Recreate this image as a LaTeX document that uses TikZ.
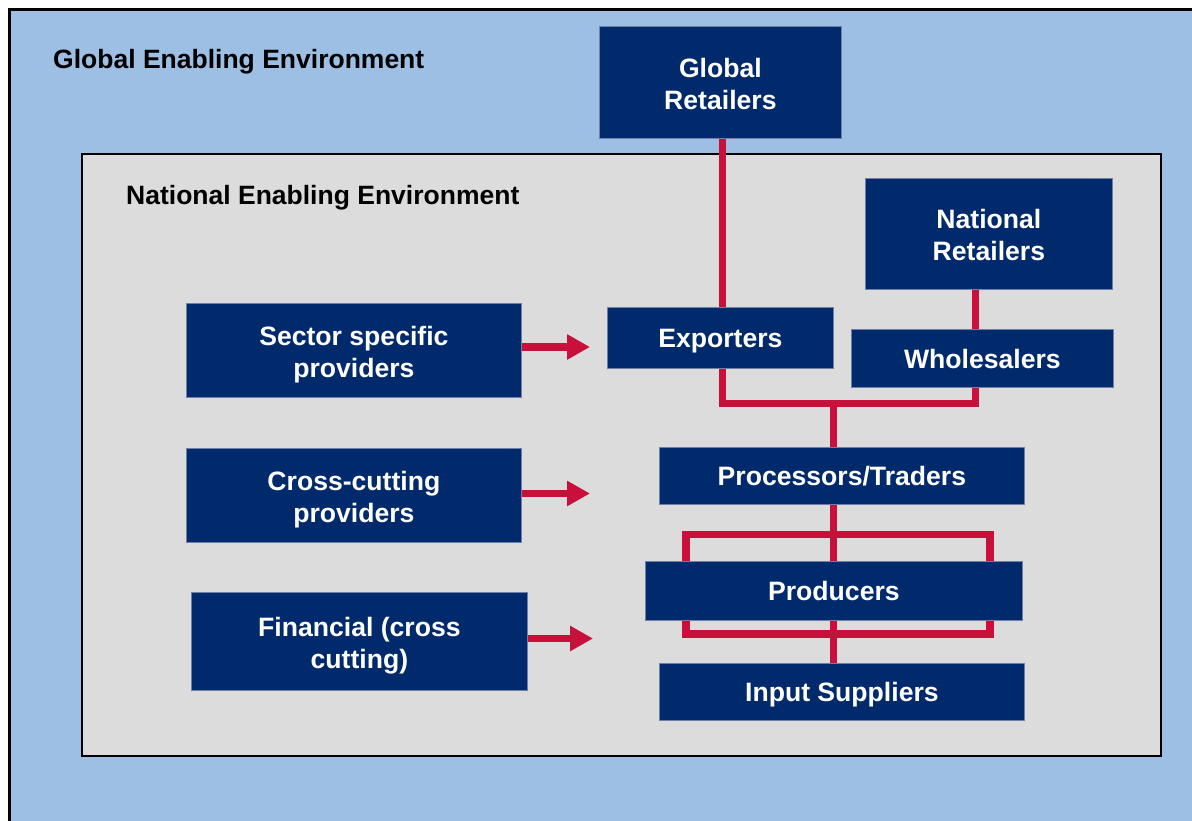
\documentclass[tikz,border=0pt]{standalone}
\usepackage{fontspec}
\setmainfont{Liberation Sans}
\usetikzlibrary{arrows.meta}
\definecolor{navy}{HTML}{002A6C}
\definecolor{redline}{HTML}{C8103A}
\definecolor{lightblue}{HTML}{9DBFE4}
\definecolor{panelgrey}{HTML}{DCDCDC}
\definecolor{boxedge}{HTML}{6F7FA8}
\newcommand{\twolines}[2]{\begin{tabular}[b]{@{}c@{}}#1\\#2\end{tabular}}
\tikzset{
  box/.style={fill=navy, draw=boxedge, line width=0.8pt, text=white, font=\fontsize{26.6}{32}\selectfont\bfseries, inner sep=0pt, anchor=north west, text height=20pt, text depth=0pt},
  boxtwo/.style={box, text height=54pt},
  link/.style={draw=redline, line width=7.5pt, line cap=butt, line join=miter},
  arrowlink/.style={link, -{Triangle[length=23pt,width=24pt]}},
  heading/.style={font=\fontsize{26.5}{32}\selectfont\bfseries, anchor=base west, inner sep=0pt}
}
\begin{document}
\begin{tikzpicture}[x=1pt,y=-1pt]
\useasboundingbox (0,0) rectangle (1192,820);
\clip (0,0) rectangle (1192,820);
% outer environment
\fill[white] (0,0) rectangle (1192,820);
\draw[fill=lightblue, line width=3pt] (9.5,9.5) rectangle (1230,860);
% national environment
\draw[fill=panelgrey, line width=2pt] (81.5,153.5) rectangle (1161,756);
\node[heading] (globalenv) at (53,68.5) {Global Enabling Environment};
\node[heading] (nationalenv) at (126,204) {National Enabling Environment};
% red loop around the producers
\draw[link] (686,534.5) rectangle (990,634);
% boxes
\node[boxtwo, minimum width=242pt, minimum height=112pt] (global) at (599,26) {\twolines{Global}{Retailers}};
\node[boxtwo, minimum width=247pt, minimum height=111pt] (natret) at (865,178) {\twolines{National}{Retailers}};
\node[box, minimum width=226pt, minimum height=61pt] (export) at (607,307) {Exporters};
\node[box, minimum width=262pt, minimum height=58pt] (whole) at (851,329) {Wholesalers};
\node[boxtwo, minimum width=335pt, minimum height=94pt] (sector) at (186,303) {\twolines{Sector specific}{providers}};
\node[boxtwo, minimum width=335pt, minimum height=94pt] (cross) at (186,448) {\twolines{Cross-cutting}{providers}};
\node[boxtwo, minimum width=336pt, minimum height=98pt] (fin) at (191,592) {\twolines{Financial (cross}{cutting)}};
\node[box, minimum width=365pt, minimum height=57pt] (proc) at (659,447) {Processors/Traders};
\node[box, minimum width=377pt, minimum height=59pt] (prod) at (645,561) {Producers};
\node[box, minimum width=365pt, minimum height=57pt] (input) at (659,663) {Input Suppliers};
% coordinates
\coordinate (j) at (833.5,403.5);
\coordinate (a1) at (590,347);
\coordinate (a2) at (590,493.5);
\coordinate (a3) at (593,638.5);
% connectors
\draw[link] (global.south -| 722.5,0) -- (export.north -| 722.5,0);
\draw[link] (natret.south -| 975.5,0) -- (whole.north -| 975.5,0);
\draw[link] (export.south -| 722.5,0) |- (j) -| (whole.south -| 975.5,0);
\draw[link] (j) -- (proc.north -| j);
\draw[link] (proc.south -| j) -- (prod.north -| j);
\draw[link] (prod.south -| j) -- (input.north -| j);
\draw[arrowlink] (sector.east |- a1) -- (a1);
\draw[arrowlink] (cross.east |- a2) -- (a2);
\draw[arrowlink] (fin.east |- a3) -- (a3);
\end{tikzpicture}
\end{document}
